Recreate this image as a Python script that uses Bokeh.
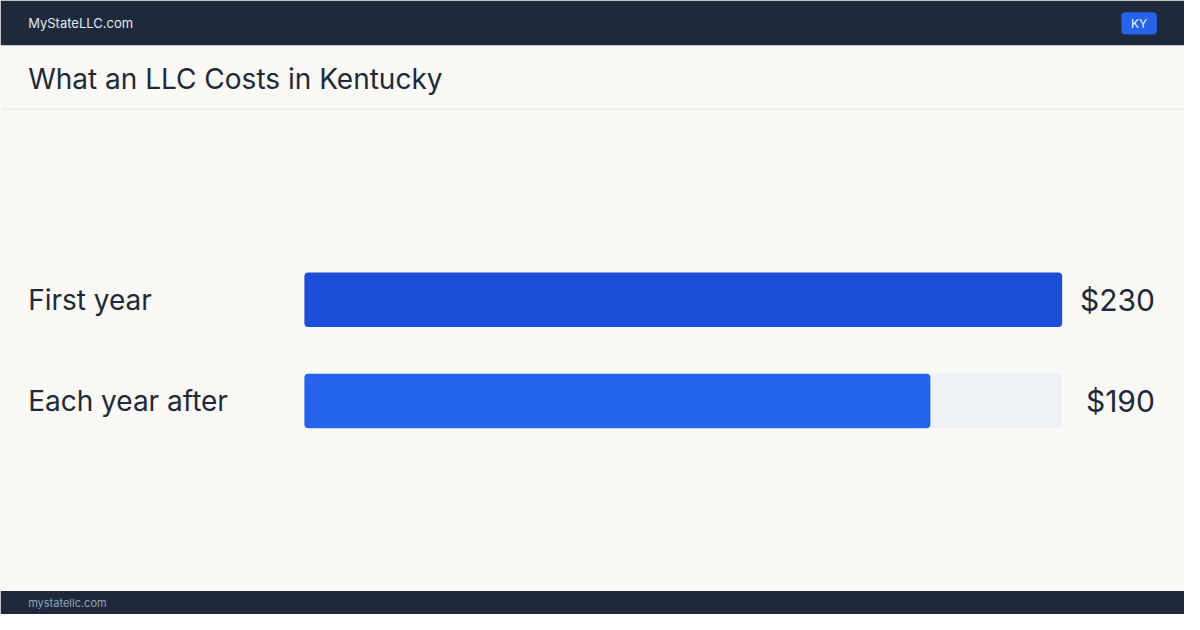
from bokeh.plotting import figure
from bokeh.models import Range1d, ColumnDataSource
from bokeh.core.properties import value
from bokeh.embed import file_html
from bokeh.resources import INLINE

# ---- data ----
categories = ["First year", "Each year after"]
costs = [230, 190]
value_labels = ["$230", "$190"]
bar_colors = ["#1d4ed8", "#2563eb"]
site_name = "MyStateLLC.com"
footer_name = "mystatellc.com"
state_code = "KY"
title_text = "What an LLC Costs in Kentucky"

# ---- geometry (layout units = reference page pixels 1200x630) ----
W, H = 1184, 614
RW, RH = 1200, 630
BAR_L, BAR_R = 308, 1076   # track left/right
ROW0_Y, ROW_STEP = 307, 104
BAR_H = 56
FONT = "Inter"
BG = "#faf9f6"
DARK = "#1e293b"

p = figure(width=W, height=H, output_backend="svg", toolbar_location=None,
           x_range=Range1d(0, RW), y_range=Range1d(RH, 0),
           min_border=0, outline_line_color=None,
           background_fill_color=BG, border_fill_color=BG)
p.axis.visible = False
p.grid.visible = False

# extra ranges for the data: dollars along x, row index along y
k = (BAR_R - BAR_L) / max(costs)
p.extra_x_ranges = {"usd": Range1d(-BAR_L / k, (RW - BAR_L) / k)}
p.extra_y_ranges = {"rows": Range1d((RH - ROW0_Y) / ROW_STEP, -ROW0_Y / ROW_STEP)}

# header / footer / divider
p.quad(left=[0], right=[RW], top=[0], bottom=[46], fill_color=DARK, line_color=None)
p.quad(left=[0], right=[RW], top=[606], bottom=[RH], fill_color=DARK, line_color=None)
p.segment(x0=[0], x1=[RW], y0=[111.5], y1=[111.5], line_color="#e5e7eb", line_width=1)
p.quad(left=[1136], right=[1172], top=[12], bottom=[35], fill_color="#2563eb",
       line_color=None, border_radius=4)
p.text(x=[1154], y=[24], text=[state_code], text_font=value(FONT), text_font_size="12px",
       text_color="#eff6ff", text_align="center", text_baseline="middle")
p.text(x=[28], y=[23], text=[site_name], text_font=value(FONT), text_font_size="13px",
       text_color="#e2e8f0", text_baseline="middle")
p.text(x=[28], y=[618.5], text=[footer_name], text_font=value(FONT), text_font_size="11px",
       text_color="#94a3b8", text_baseline="middle")
p.text(x=[28], y=[81], text=[title_text], text_font=value(FONT), text_font_size="28px",
       text_color=DARK, text_baseline="middle")

# bars
rows = list(range(len(categories)))
src = ColumnDataSource(dict(row=rows, cost=costs, cat=categories, lab=value_labels,
                            color=bar_colors, maxc=[max(costs)] * len(costs), zero=[0] * len(costs)))
bh = BAR_H / ROW_STEP
p.hbar(y="row", left="zero", right="maxc", height=bh, source=src, fill_color="#eef2f7",
       line_color=None, border_radius=4, x_range_name="usd", y_range_name="rows")
p.hbar(y="row", left="zero", right="cost", height=bh, source=src, fill_color="color",
       line_color=None, border_radius=4, x_range_name="usd", y_range_name="rows")
p.text(x=28, y="row", text="cat", source=src, text_font=value(FONT), text_font_size="28px",
       text_color=DARK, text_baseline="middle", y_range_name="rows")
p.text(x=1170, y="row", text="lab", source=src, text_font=value(FONT), text_font_size="30px",
       text_color=DARK, text_baseline="middle", text_align="right", y_range_name="rows")

open("out.html", "w").write(file_html(p, INLINE))
